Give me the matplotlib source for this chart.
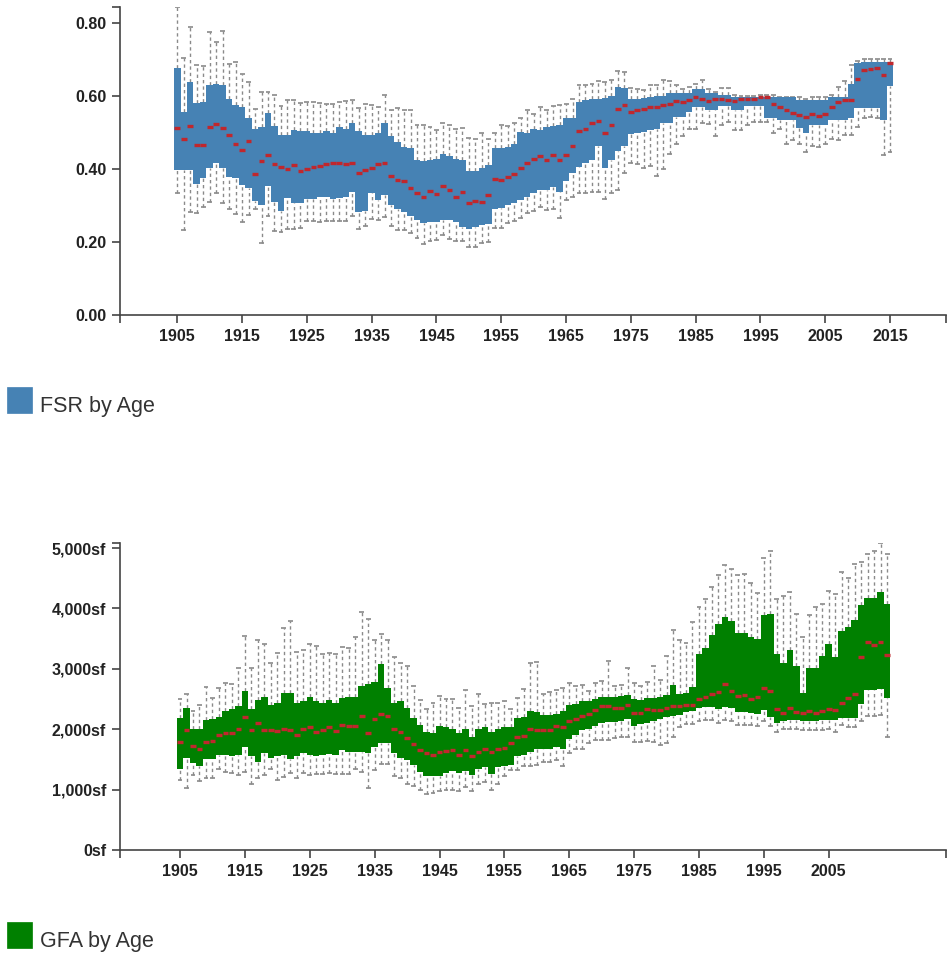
import numpy as np
import matplotlib
matplotlib.use("Agg")
import matplotlib.pyplot as plt
from matplotlib.patches import Rectangle
from matplotlib.ticker import FuncFormatter

plt.rcParams['font.family'] = ['Liberation Sans', 'DejaVu Sans']

# ---- FSR by Age (1905-2015) ----
fsr_years = list(range(1905, 2016))
fsr_hi = [0.844, 0.705, 0.789, 0.686, 0.682, 0.776, 0.748, 0.778, 0.687, 0.693,
          0.660, 0.639, 0.565, 0.612, 0.612, 0.602, 0.572, 0.589, 0.589, 0.580,
          0.584, 0.584, 0.581, 0.577, 0.577, 0.584, 0.587, 0.589, 0.566, 0.579,
          0.576, 0.569, 0.602, 0.563, 0.568, 0.561, 0.561, 0.522, 0.522, 0.514,
          0.507, 0.527, 0.520, 0.511, 0.513, 0.484, 0.481, 0.498, 0.481, 0.500,
          0.522, 0.518, 0.527, 0.539, 0.561, 0.552, 0.571, 0.561, 0.572, 0.574,
          0.578, 0.593, 0.629, 0.629, 0.634, 0.640, 0.638, 0.643, 0.668, 0.666,
          0.623, 0.618, 0.616, 0.629, 0.629, 0.645, 0.641, 0.630, 0.618, 0.625,
          0.634, 0.645, 0.618, 0.612, 0.623, 0.623, 0.602, 0.601, 0.601, 0.601,
          0.602, 0.602, 0.602, 0.598, 0.598, 0.598, 0.596, 0.591, 0.596, 0.596,
          0.596, 0.602, 0.625, 0.641, 0.684, 0.695, 0.700, 0.702, 0.702, 0.702,
          0.702]
fsr_q3 = [0.677, 0.556, 0.639, 0.580, 0.584, 0.630, 0.634, 0.630, 0.592, 0.574,
          0.569, 0.539, 0.509, 0.516, 0.554, 0.518, 0.493, 0.493, 0.507, 0.504,
          0.504, 0.499, 0.500, 0.504, 0.499, 0.516, 0.511, 0.525, 0.504, 0.493,
          0.493, 0.498, 0.525, 0.490, 0.475, 0.461, 0.457, 0.425, 0.421, 0.425,
          0.427, 0.441, 0.437, 0.427, 0.425, 0.396, 0.396, 0.402, 0.411, 0.457,
          0.457, 0.461, 0.470, 0.502, 0.499, 0.509, 0.507, 0.516, 0.518, 0.520,
          0.539, 0.540, 0.584, 0.589, 0.592, 0.592, 0.595, 0.600, 0.625, 0.621,
          0.592, 0.592, 0.595, 0.598, 0.600, 0.600, 0.607, 0.607, 0.607, 0.607,
          0.618, 0.618, 0.607, 0.607, 0.602, 0.602, 0.598, 0.598, 0.598, 0.598,
          0.598, 0.596, 0.596, 0.596, 0.596, 0.596, 0.590, 0.590, 0.590, 0.590,
          0.590, 0.598, 0.598, 0.598, 0.634, 0.690, 0.692, 0.694, 0.694, 0.692,
          0.692]
fsr_med = [0.512, 0.482, 0.518, 0.465, 0.465, 0.516, 0.523, 0.512, 0.494, 0.468,
           0.453, 0.477, 0.386, 0.421, 0.438, 0.414, 0.405, 0.399, 0.411, 0.396,
           0.399, 0.406, 0.409, 0.413, 0.416, 0.417, 0.415, 0.417, 0.390, 0.397,
           0.402, 0.414, 0.416, 0.381, 0.370, 0.368, 0.349, 0.334, 0.323, 0.341,
           0.332, 0.353, 0.344, 0.324, 0.338, 0.308, 0.314, 0.310, 0.328, 0.373,
           0.370, 0.379, 0.386, 0.402, 0.416, 0.427, 0.436, 0.425, 0.439, 0.425,
           0.438, 0.463, 0.504, 0.511, 0.527, 0.531, 0.499, 0.520, 0.565, 0.574,
           0.555, 0.563, 0.565, 0.569, 0.569, 0.575, 0.579, 0.587, 0.584, 0.589,
           0.598, 0.591, 0.585, 0.591, 0.591, 0.588, 0.585, 0.591, 0.593, 0.593,
           0.596, 0.596, 0.578, 0.569, 0.561, 0.554, 0.548, 0.543, 0.550, 0.546,
           0.552, 0.571, 0.584, 0.589, 0.589, 0.647, 0.671, 0.675, 0.676, 0.657,
           0.689]
fsr_q1 = [0.397, 0.397, 0.397, 0.358, 0.375, 0.402, 0.416, 0.402, 0.379, 0.376,
          0.356, 0.349, 0.313, 0.303, 0.355, 0.311, 0.286, 0.320, 0.308, 0.306,
          0.317, 0.318, 0.323, 0.323, 0.319, 0.322, 0.324, 0.338, 0.283, 0.286,
          0.335, 0.315, 0.329, 0.302, 0.291, 0.283, 0.272, 0.261, 0.253, 0.255,
          0.256, 0.261, 0.261, 0.256, 0.242, 0.235, 0.241, 0.246, 0.250, 0.290,
          0.293, 0.302, 0.306, 0.315, 0.324, 0.334, 0.343, 0.344, 0.352, 0.338,
          0.368, 0.388, 0.406, 0.416, 0.425, 0.464, 0.402, 0.425, 0.450, 0.464,
          0.496, 0.498, 0.502, 0.507, 0.511, 0.525, 0.525, 0.543, 0.543, 0.557,
          0.569, 0.569, 0.563, 0.563, 0.572, 0.572, 0.561, 0.561, 0.572, 0.572,
          0.572, 0.541, 0.541, 0.534, 0.534, 0.534, 0.512, 0.500, 0.520, 0.520,
          0.520, 0.534, 0.534, 0.534, 0.539, 0.566, 0.566, 0.566, 0.566, 0.534,
          0.627]
fsr_lo = [0.334, 0.233, 0.283, 0.281, 0.297, 0.311, 0.335, 0.306, 0.292, 0.278,
          0.256, 0.274, 0.290, 0.197, 0.272, 0.231, 0.227, 0.236, 0.236, 0.238,
          0.259, 0.259, 0.256, 0.259, 0.258, 0.258, 0.258, 0.273, 0.235, 0.244,
          0.263, 0.261, 0.268, 0.244, 0.233, 0.233, 0.224, 0.211, 0.194, 0.204,
          0.206, 0.219, 0.209, 0.204, 0.204, 0.188, 0.188, 0.197, 0.200, 0.238,
          0.238, 0.253, 0.259, 0.265, 0.279, 0.286, 0.295, 0.288, 0.290, 0.265,
          0.315, 0.324, 0.334, 0.335, 0.337, 0.338, 0.319, 0.335, 0.344, 0.388,
          0.416, 0.413, 0.402, 0.408, 0.382, 0.399, 0.441, 0.470, 0.490, 0.509,
          0.509, 0.527, 0.523, 0.490, 0.520, 0.530, 0.507, 0.507, 0.520, 0.530,
          0.530, 0.530, 0.499, 0.511, 0.468, 0.479, 0.468, 0.447, 0.463, 0.461,
          0.470, 0.481, 0.479, 0.493, 0.493, 0.516, 0.541, 0.543, 0.541, 0.438,
          0.447]

# ---- GFA by Age (1905-2014) ----
gfa_years = list(range(1905, 2015))
gfa_hi = [2500, 2580, 2310, 2400, 2700, 2510, 2680, 2770, 2750, 3020,
          3550, 3020, 3480, 3420, 3100, 3260, 3680, 3800, 3280, 3320,
          3420, 3380, 3250, 3270, 3250, 3370, 3340, 3520, 3940, 3830,
          3470, 3570, 3470, 3190, 3100, 3050, 2720, 2480, 2330, 2440,
          2550, 2500, 2500, 2360, 2650, 2380, 2580, 2420, 2430, 2440,
          2460, 2330, 2510, 2660, 3090, 3120, 2590, 2620, 2650, 2680,
          2760, 2720, 2730, 2630, 2760, 2800, 3130, 2720, 2730, 3020,
          2760, 2720, 2790, 3040, 2820, 3210, 3640, 3470, 3430, 3780,
          4020, 4160, 4360, 4550, 4720, 4660, 4550, 4570, 4430, 4260,
          4830, 4960, 4150, 4210, 4280, 3910, 3530, 3890, 4020, 4080,
          4290, 4240, 4610, 4500, 4740, 4770, 4900, 4960, 5090, 4900]
gfa_q3 = [2180, 2360, 2010, 2010, 2160, 2170, 2210, 2310, 2330, 2380,
          2640, 2330, 2480, 2540, 2400, 2440, 2600, 2600, 2440, 2460,
          2540, 2460, 2440, 2480, 2430, 2510, 2540, 2540, 2720, 2750,
          2790, 3080, 2680, 2430, 2470, 2350, 2180, 2070, 1960, 1930,
          2060, 2030, 2000, 1930, 2000, 1870, 2000, 2030, 1960, 2000,
          2030, 2030, 2180, 2200, 2310, 2290, 2240, 2240, 2260, 2310,
          2400, 2420, 2460, 2470, 2500, 2540, 2540, 2540, 2550, 2570,
          2500, 2480, 2510, 2510, 2530, 2570, 2740, 2580, 2600, 2700,
          3250, 3340, 3560, 3740, 3860, 3800, 3590, 3600, 3520, 3490,
          3890, 3910, 3250, 3090, 3320, 3040, 2600, 3020, 3020, 3210,
          3410, 3200, 3620, 3700, 3810, 4060, 4170, 4180, 4280, 4080]
gfa_med = [1790, 1990, 1730, 1680, 1790, 1810, 1900, 1940, 1930, 2000,
           2210, 1980, 2100, 1990, 1990, 1970, 2000, 1990, 1900, 2010,
           2040, 1960, 1990, 2030, 1970, 2070, 2050, 2050, 2220, 1940,
           2170, 2260, 2220, 2000, 1950, 1860, 1760, 1650, 1600, 1580,
           1630, 1640, 1650, 1580, 1660, 1550, 1620, 1680, 1630, 1670,
           1690, 1770, 1870, 1890, 2010, 1990, 1990, 1980, 2050, 2040,
           2130, 2170, 2220, 2250, 2320, 2380, 2380, 2360, 2360, 2400,
           2270, 2270, 2330, 2320, 2320, 2350, 2380, 2380, 2400, 2410,
           2500, 2540, 2580, 2620, 2750, 2640, 2550, 2570, 2500, 2530,
           2690, 2640, 2340, 2270, 2360, 2290, 2270, 2300, 2270, 2310,
           2340, 2320, 2430, 2510, 2590, 3190, 3450, 3400, 3440, 3230]
gfa_q1 = [1350, 1520, 1440, 1390, 1500, 1510, 1570, 1570, 1560, 1570,
          1710, 1560, 1460, 1600, 1520, 1560, 1580, 1500, 1550, 1610,
          1570, 1550, 1580, 1590, 1570, 1650, 1630, 1630, 1620, 1610,
          1700, 1780, 1770, 1600, 1530, 1490, 1410, 1300, 1230, 1230,
          1230, 1270, 1310, 1270, 1310, 1240, 1340, 1380, 1260, 1380,
          1390, 1410, 1550, 1570, 1630, 1680, 1680, 1670, 1710, 1680,
          1840, 1900, 1980, 2010, 2060, 2110, 2120, 2120, 2130, 2170,
          2060, 2090, 2110, 2140, 2170, 2200, 2220, 2240, 2280, 2300,
          2360, 2370, 2370, 2330, 2370, 2350, 2290, 2290, 2270, 2260,
          2320, 2210, 2110, 2130, 2150, 2160, 2130, 2130, 2140, 2150,
          2150, 2150, 2180, 2180, 2180, 2420, 2650, 2650, 2660, 2510]
gfa_lo = [1160, 1020, 1240, 1140, 1200, 1200, 1340, 1300, 1270, 1240,
          1300, 1100, 1200, 1240, 1350, 1160, 1210, 1270, 1200, 1270,
          1240, 1260, 1260, 1280, 1260, 1260, 1260, 1350, 1300, 1020,
          1330, 1420, 1420, 1230, 1200, 1100, 1060, 990, 930, 950,
          980, 1000, 1000, 970, 1050, 970, 1100, 1120, 1000, 1100,
          1230, 1330, 1330, 1390, 1390, 1410, 1450, 1450, 1490, 1390,
          1600, 1670, 1670, 1770, 1830, 1830, 1830, 1850, 1880, 1880,
          1790, 1790, 1810, 1790, 1740, 1780, 1870, 2030, 2090, 2090,
          2140, 2150, 2160, 2110, 2160, 2140, 2070, 2070, 2070, 2050,
          2130, 2050, 1960, 2000, 2000, 2000, 1980, 1980, 1990, 1990,
          2000, 1960, 2070, 2030, 2030, 2140, 2220, 2220, 2240, 1870]

GRAY = '#8a8a8a'
MED = '#c0272d'
AXC = '#444444'


def boxplot_panel(ax, years, lo, q1, med, q3, hi, color):
    x = np.array(years, dtype=float)
    lo, q1, med, q3, hi = map(np.array, (lo, q1, med, q3, hi))
    # boxes sit edge to edge; no antialiasing so there are no seams
    ax.bar(x, q3 - q1, bottom=q1, width=1.0, color=color,
           linewidth=0, antialiased=False, zorder=2)
    dash = (0, (2.4, 2.2))
    ax.vlines(x, q3, hi, colors=GRAY, linestyles=dash, linewidth=1.0, zorder=1)
    ax.vlines(x, lo, q1, colors=GRAY, linestyles=dash, linewidth=1.0, zorder=1)
    ax.hlines(hi, x - 0.38, x + 0.38, colors=GRAY, linewidth=1.2, zorder=1)
    ax.hlines(lo, x - 0.38, x + 0.38, colors=GRAY, linewidth=1.2, zorder=1)
    ax.hlines(med, x - 0.44, x + 0.44, colors=MED, linewidth=2.4, zorder=3)


def style_axis(ax, xlim, ylim, xticks, yticks, yfmt):
    ax.set_xlim(*xlim)
    ax.set_ylim(*ylim)
    for s in ('top', 'right'):
        ax.spines[s].set_visible(False)
    for s in ('left', 'bottom'):
        ax.spines[s].set_color(AXC)
        ax.spines[s].set_linewidth(1.2)
    ax.set_xticks(xticks)
    ax.set_yticks(yticks)
    ax.set_xticks(list(xlim), minor=True)
    ax.set_yticks([ylim[1]], minor=True)
    ax.yaxis.set_major_formatter(FuncFormatter(yfmt))
    ax.tick_params(which='both', length=6, width=1.2, color=AXC,
                   direction='out', pad=4)
    ax.tick_params(which='minor', labelbottom=False, labelleft=False)
    for lab in ax.get_xticklabels() + ax.get_yticklabels():
        lab.set_fontweight('bold')
        lab.set_fontsize(11.5)
        lab.set_color('#222222')


fig = plt.figure(figsize=(9.48, 9.55), dpi=100)

ax1 = fig.add_axes([0.1266, 0.6698, 0.8713, 0.3231])
boxplot_panel(ax1, fsr_years, fsr_lo, fsr_q1, fsr_med, fsr_q3, fsr_hi, '#4682b4')
style_axis(ax1, (1896.16, 2023.64), (0, 0.844),
           list(range(1905, 2016, 10)), [0, 0.2, 0.4, 0.6, 0.8],
           lambda v, p: f"{v:.2f}")

ax2 = fig.add_axes([0.1266, 0.1099, 0.8713, 0.3218])
boxplot_panel(ax2, gfa_years, gfa_lo, gfa_q1, gfa_med, gfa_q3, gfa_hi, '#008000')
style_axis(ax2, (1895.75, 2023.08), (0, 5089),
           list(range(1905, 2006, 10)), [0, 1000, 2000, 3000, 4000, 5000],
           lambda v, p: f"{int(v):,}sf")

# legends
W, H = 948, 955
for (y_top, label, color) in [(387, 'FSR by Age', '#4682b4'),
                              (922, 'GFA by Age', '#008000')]:
    fig.patches.append(Rectangle((7 / W, 1 - (y_top + 26) / H), 25 / W, 26 / H,
                                 transform=fig.transFigure, facecolor=color,
                                 edgecolor=color, linewidth=0.5))
    fig.text(40 / W, 1 - (y_top + 25) / H, label, fontsize=15.5,
             color='#333333', va='baseline', ha='left')

fig.savefig('out.png', dpi=100)
